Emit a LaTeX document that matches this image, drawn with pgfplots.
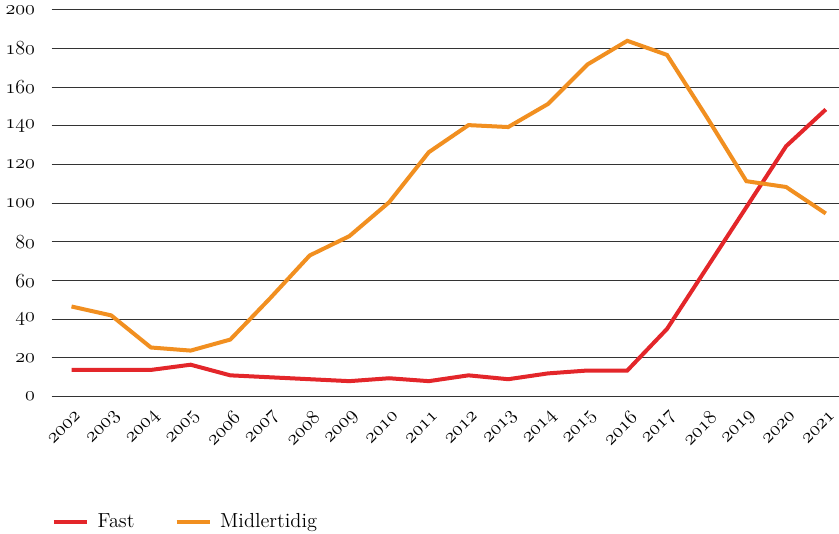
\documentclass[border=0pt]{standalone}
\usepackage{pgfplots}
\pgfplotsset{compat=1.18}
\definecolor{fastred}{RGB}{227,38,42}
\definecolor{midorange}{RGB}{241,143,32}
\newcommand{\os}[1]{{\usefont{OML}{cmm}{m}{it}#1}}
\begin{document}
\begin{tikzpicture}
\begin{axis}[
    scale only axis,
    width=472pt, height=232pt,
    xmin=-0.5, xmax=19.32,
    ymin=0, ymax=200,
    axis line style={draw=none},
    major tick length=0pt,
    ytick={0,20,...,200},
    yticklabels={\os{0},\os{20},\os{40},\os{60},\os{80},\os{100},\os{120},\os{140},\os{160},\os{180},\os{200}},
    xtick={0,...,19},
    xticklabels={\os{2002},\os{2003},\os{2004},\os{2005},\os{2006},\os{2007},\os{2008},\os{2009},\os{2010},\os{2011},\os{2012},\os{2013},\os{2014},\os{2015},\os{2016},\os{2017},\os{2018},\os{2019},\os{2020},\os{2021}},
    ymajorgrids,
    grid style={black!80, line width=0.6pt},
    xticklabel style={rotate=45, anchor=east, font=\fontsize{12}{14}\selectfont,
        xshift=-1pt, yshift=-10pt, overlay},
    yticklabel style={xshift=-6.5pt, font=\fontsize{12}{14}\selectfont},
    legend style={at={(0,-0.323)}, anchor=west, draw=none, legend columns=2,
        font=\fontsize{12.2}{14}\selectfont,
        inner sep=0pt,
        /tikz/every odd column/.append style={column sep=3pt},
        /tikz/every even column/.append style={column sep=22pt}},
    legend image code/.code={\draw[#1, line width=2.4pt] (0pt,0pt) -- (20pt,0pt);},
]
    \addplot[fastred, line width=2.4pt, mark=none] coordinates {
        (0,13.8) (1,13.8) (2,13.8) (3,16.5) (4,11) (5,10) (6,9) (7,8)
        (8,9.5) (9,8) (10,11) (11,9) (12,12) (13,13.5) (14,13.5)
        (15,35) (16,66.5) (17,98) (18,129.5) (19,148.5)
    };
    \addlegendentry{Fast}
    \addplot[midorange, line width=2.4pt, mark=none] coordinates {
        (0,46.6) (1,42) (2,25.4) (3,23.8) (4,29.5) (5,50.8) (6,73) (7,83)
        (8,100.5) (9,126.4) (10,140.4) (11,139.4) (12,151.3) (13,171.8)
        (14,184) (15,176.7) (16,144.6) (17,111.4) (18,108.4) (19,94.7)
    };
    \addlegendentry{Midlertidig}
\end{axis}
\end{tikzpicture}
\end{document}
